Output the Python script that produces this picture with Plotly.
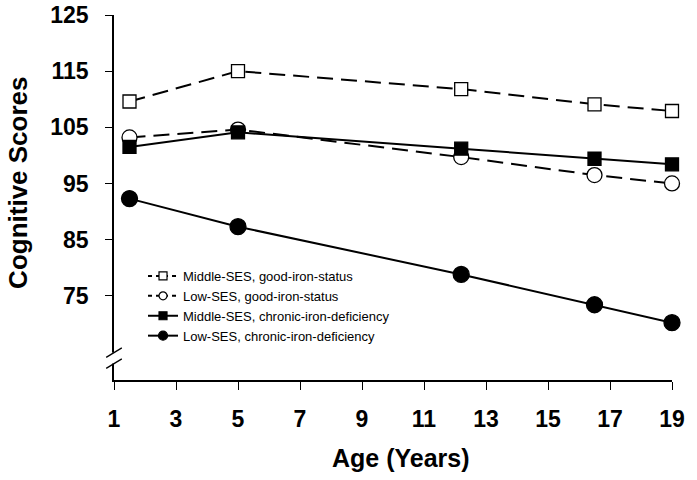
import plotly.graph_objects as go

ages = [1.5, 5, 12.2, 16.5, 19]
middle_good = [109.6, 115.0, 111.8, 109.1, 107.9]
low_good = [103.2, 104.6, 99.7, 96.5, 95.0]
middle_chronic = [101.5, 104.1, 101.2, 99.4, 98.4]
low_chronic = [92.3, 87.3, 78.8, 73.4, 70.2]

x_ticks = [1, 3, 5, 7, 9, 11, 13, 15, 17, 19]
y_ticks = [75, 85, 95, 105, 115, 125]

names = ["Middle-SES, good-iron-status", "Low-SES, good-iron-status",
         "Middle-SES, chronic-iron-deficiency", "Low-SES, chronic-iron-deficiency"]
series = [middle_good, low_good, middle_chronic, low_chronic]

DASH = "16px,8px"
styles = [
    dict(dash=DASH, symbol="square", fill="white", size=13),
    dict(dash=DASH, symbol="circle", fill="white", size=15),
    dict(dash="solid", symbol="square", fill="black", size=13),
    dict(dash="solid", symbol="circle", fill="black", size=16),
]
legend_sizes = [8, 8, 8, 9]

fig = go.Figure()
for name, vals, st in zip(names, series, styles):
    fig.add_trace(go.Scatter(
        x=ages, y=vals, name=name, mode="lines+markers", showlegend=False,
        line=dict(color="black", width=2, dash=st["dash"]),
        marker=dict(symbol=st["symbol"], size=st["size"], color=st["fill"],
                    line=dict(color="black", width=1.3)),
        cliponaxis=False))

# legend entries with small symbols (as in the reference legend)
for name, st, ls in zip(names, styles, legend_sizes):
    fig.add_trace(go.Scatter(
        x=[None], y=[None], name=name, mode="lines+markers", showlegend=True,
        line=dict(color="black", width=2, dash="4px,4px" if st["dash"] != "solid" else "solid"),
        marker=dict(symbol=st["symbol"], size=ls, color=st["fill"],
                    line=dict(color="black", width=1.2))))

# axis break marks on y axis
fig.add_shape(type="rect", xref="paper", yref="paper", x0=-0.01, x1=0.01,
              y0=0.045, y1=0.075, fillcolor="white", line=dict(width=0))
for yc in [0.045, 0.075]:
    fig.add_shape(type="line", xref="paper", yref="paper",
                  x0=-0.014, x1=0.014, y0=yc - 0.013, y1=yc + 0.013,
                  line=dict(color="black", width=1.3))

FONT = "Liberation Sans, Arial, sans-serif"
fig.add_annotation(text="<b>Age (Years)</b>", xref="paper", yref="paper",
                   x=0.515, y=0, xanchor="center", yanchor="middle", yshift=-78,
                   showarrow=False, font=dict(size=25, family=FONT, color="black"))
fig.add_annotation(text="<b>Cognitive Scores</b>", xref="paper", yref="paper",
                   x=0, y=0.54, xanchor="center", yanchor="middle", xshift=-96,
                   textangle=-90, showarrow=False,
                   font=dict(size=26, family=FONT, color="black"))

fig.update_layout(
    width=697, height=480, autosize=False,
    margin=dict(l=114, r=25, t=15, b=100, autoexpand=False),
    paper_bgcolor="white", plot_bgcolor="white",
    font=dict(family=FONT, color="black"),
    showlegend=True,
    legend=dict(x=0.052, y=0.326, xanchor="left", yanchor="top",
                bgcolor="rgba(0,0,0,0)", font=dict(size=13, family=FONT),
                tracegroupgap=0, itemsizing="trace", itemwidth=30),
    xaxis=dict(range=[1, 19], tickvals=x_ticks, ticktext=[str(v) for v in x_ticks],
               showgrid=False, zeroline=False, showline=True, linecolor="black",
               linewidth=1.5, ticks="outside", ticklen=8, tickwidth=1.3,
               tickcolor="black", automargin=False, ticklabelstandoff=10,
               ticklabeloverflow="allow",
               tickfont=dict(size=23, family=FONT, weight="bold")),
    yaxis=dict(range=[60, 125], tickvals=y_ticks, ticktext=[str(v) for v in y_ticks],
               showgrid=False, zeroline=False, showline=True, linecolor="black",
               linewidth=1.5, ticks="outside", ticklen=7, tickwidth=1.3,
               tickcolor="black", automargin=False, ticklabelstandoff=12,
               ticklabeloverflow="allow",
               tickfont=dict(size=23, family=FONT, weight="bold")),
)

fig.write_html("out.html", config={"displayModeBar": False},
               post_script="document.body.style.margin='0';document.body.style.overflow='hidden';")
